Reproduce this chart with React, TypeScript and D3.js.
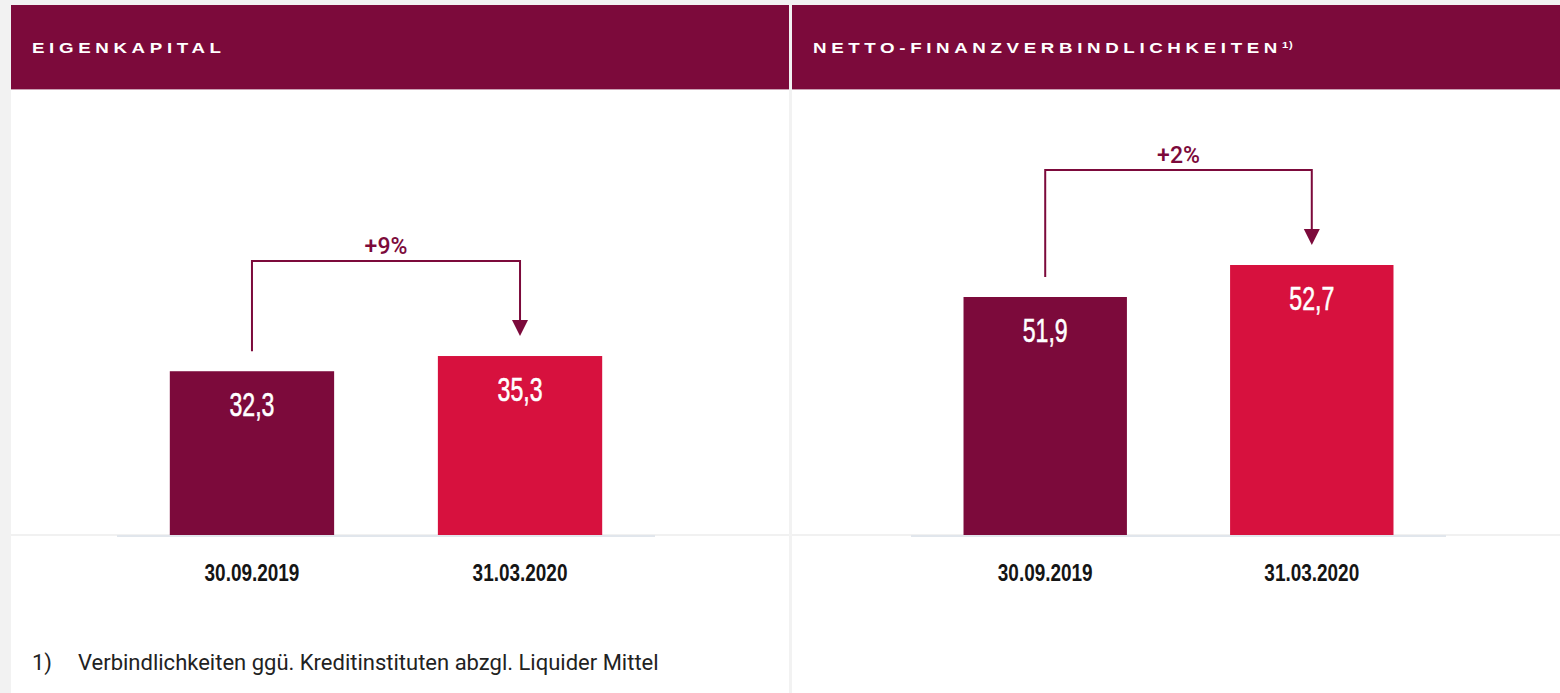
import React from "react";
import * as d3 from "d3";

// values
const dates = ["30.09.2019", "31.03.2020"];
const eigenkapital = [32.3, 35.3];
const nettoFinanz = [51.9, 52.7];
const changes = ["+9%", "+2%"];
const titles = ["EIGENKAPITAL", "NETTO-FINANZVERBINDLICHKEITEN"];
const titleNotes = ["", "1)"];
const footnote = ["1)", "Verbindlichkeiten ggü. Kreditinstituten abzgl. Liquider Mittel"];

const W = 1560;
const H = 693;
const MAROON = "#7c0a3b";
const RED = "#d7113e";
const BASE = 535;
const SANS = "'Liberation Sans', Arial, sans-serif";

const fmt = (v: number) => v.toFixed(1).replace(".", ",");

type PanelProps = {
  x0: number;
  width: number;
  title: string;
  note: string;
  values: number[];
  yMin: number;
  yPxPerUnit: number;
  range: [number, number];
  change: string;
};

function Panel({ x0, width, title, note, values, yMin, yPxPerUnit, range, change }: PanelProps) {
  const x = d3.scaleBand<string>()
    .domain(dates)
    .range(range)
    .paddingInner(0.387)
    .paddingOuter(0.197);

  const yMax = d3.max(values) as number;
  const y = d3.scaleLinear()
    .domain([yMin, yMax])
    .range([BASE, BASE - (yMax - yMin) * yPxPerUnit]);

  const bw = x.bandwidth();
  const c0 = (x(dates[0]) as number) + bw / 2;
  const c1 = (x(dates[1]) as number) + bw / 2;
  const top0 = y(values[0]);
  const top1 = y(values[1]);
  const bracketTop = Math.min(top0, top1) - 95;
  const tip = top1 - 20;
  const headH = 16;

  return (
    <g>
      <rect x={x0} y={89} width={width} height={H - 89} fill="#fff" />
      <rect x={x0} y={5} width={width} height={84} fill={MAROON} />
      <line x1={x0} x2={x0 + width} y1={89.5} y2={89.5} stroke="#c9a0b2" strokeWidth={1} />
      <text
        transform={`translate(${x0 + 21},53) scale(1.25,1)`}
        fill="#fff"
        fontFamily={SANS}
        fontWeight={700}
        fontSize={15}
        letterSpacing={3.7}
      >
        {title}
        {note && (
          <tspan dy={-5} fontSize={9} letterSpacing={0.5}>{note}</tspan>
        )}
      </text>

      {/* base lines */}
      <rect x={x0} y={534} width={width} height={2} fill="#f1f1f1" />
      <rect x={range[0]} y={535} width={range[1] - range[0]} height={2} fill="#e1e6ec" />

      {values.map((v, i) => (
        <rect
          key={i}
          x={x(dates[i])}
          y={y(v)}
          width={bw}
          height={BASE - y(v)}
          fill={i === 0 ? MAROON : RED}
        />
      ))}

      {values.map((v, i) => {
        const cx = (x(dates[i]) as number) + bw / 2;
        return (
          <text
            key={i}
            transform={`translate(${cx},${y(v) + 45}) scale(0.7,1)`}
            textAnchor="middle"
            fill="#fff"
            stroke="#fff"
            strokeWidth={0.6}
            fontFamily={SANS}
            fontSize={33}
          >
            {fmt(v)}
          </text>
        );
      })}

      {dates.map((d) => (
        <text
          key={d}
          transform={`translate(${(x(d) as number) + bw / 2},581) scale(0.79,1)`}
          textAnchor="middle"
          fill="#151515"
          fontFamily={SANS}
          fontWeight={700}
          fontSize={24}
        >
          {d}
        </text>
      ))}

      {/* change bracket */}
      <path
        d={`M${c0},${top0 - 20}V${bracketTop}H${c1}V${tip - headH}`}
        fill="none"
        stroke={MAROON}
        strokeWidth={2}
      />
      <path
        d={`M${c1 - 8},${tip - headH}L${c1 + 8},${tip - headH}L${c1},${tip}Z`}
        fill={MAROON}
      />
      <text
        x={(c0 + c1) / 2}
        y={bracketTop - 7}
        textAnchor="middle"
        fill={MAROON}
        fontFamily="Roboto, sans-serif"
        fontWeight={500}
        fontSize={23}
      >
        {change}
      </text>
    </g>
  );
}

export default function App() {
  return (
    <div>
      <style>{`body{margin:0}`}</style>
      <svg width={W} height={H} style={{ display: "block" }}>
        <rect width={W} height={H} fill="#f2f2f2" />
        <Panel
          x0={11}
          width={778}
          title={titles[0]}
          note={titleNotes[0]}
          values={eigenkapital}
          yMin={0}
          yPxPerUnit={5.07}
          range={[117, 655]}
          change={changes[0]}
        />
        <Panel
          x0={792}
          width={768}
          title={titles[1]}
          note={titleNotes[1]}
          values={nettoFinanz}
          yMin={45.95}
          yPxPerUnit={40}
          range={[911, 1446]}
          change={changes[1]}
        />
        <text x={32} y={670} fill="#222" fontFamily="Roboto, sans-serif" fontSize={22}>
          {footnote[0]}
        </text>
        <text x={78} y={670} fill="#222" fontFamily="Roboto, sans-serif" fontSize={22}>
          {footnote[1]}
        </text>
      </svg>
    </div>
  );
}
